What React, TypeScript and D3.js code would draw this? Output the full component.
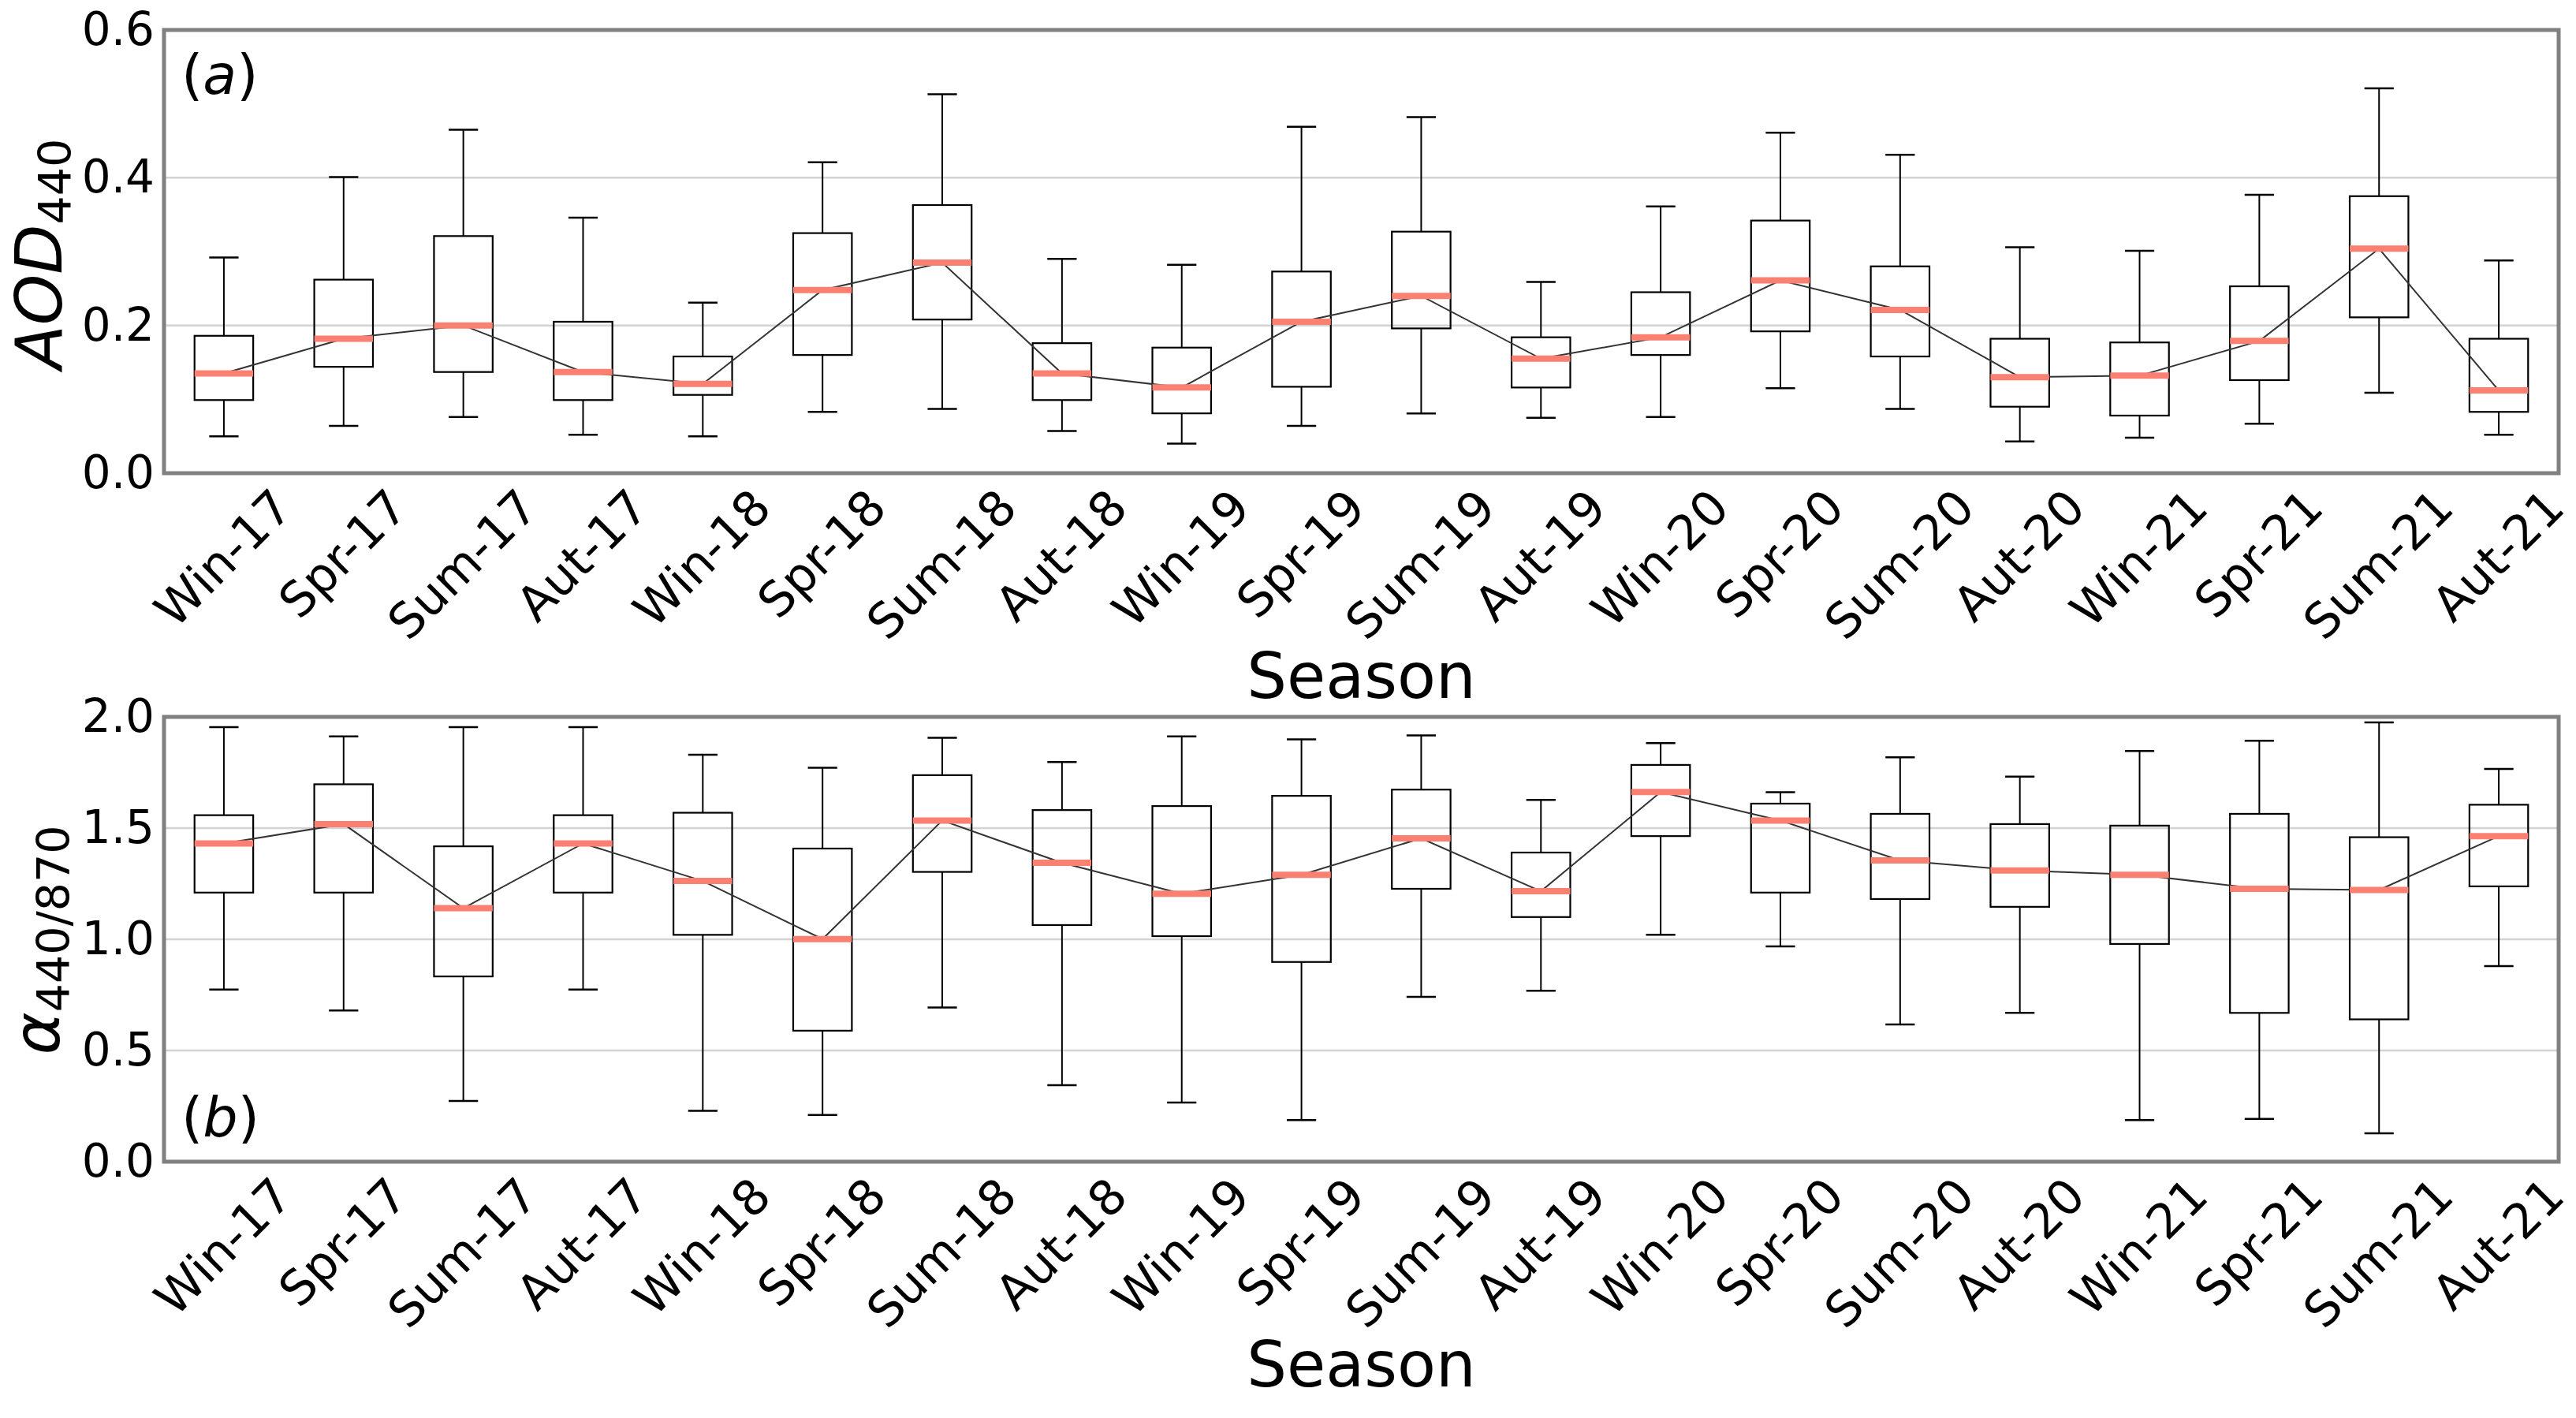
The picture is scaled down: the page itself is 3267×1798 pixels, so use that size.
import React, { useEffect, useRef } from "react";
import * as d3 from "d3";

const seasons = [
  "Win-17", "Spr-17", "Sum-17", "Aut-17",
  "Win-18", "Spr-18", "Sum-18", "Aut-18",
  "Win-19", "Spr-19", "Sum-19", "Aut-19",
  "Win-20", "Spr-20", "Sum-20", "Aut-20",
  "Win-21", "Spr-21", "Sum-21", "Aut-21",
];

// (a) AOD 440 box stats
const aodLow = [0.050, 0.064, 0.076, 0.052, 0.050, 0.083, 0.087, 0.057, 0.040, 0.064, 0.081, 0.075, 0.076, 0.115, 0.087, 0.043, 0.048, 0.067, 0.109, 0.052];
const aodQ1 = [0.099, 0.144, 0.137, 0.099, 0.106, 0.160, 0.208, 0.099, 0.081, 0.117, 0.196, 0.116, 0.160, 0.192, 0.158, 0.090, 0.078, 0.126, 0.211, 0.083];
const aodMed = [0.135, 0.182, 0.200, 0.137, 0.121, 0.248, 0.285, 0.135, 0.116, 0.205, 0.240, 0.155, 0.184, 0.261, 0.221, 0.130, 0.132, 0.179, 0.304, 0.112];
const aodQ3 = [0.186, 0.262, 0.321, 0.205, 0.158, 0.325, 0.363, 0.176, 0.170, 0.273, 0.327, 0.184, 0.245, 0.342, 0.280, 0.182, 0.177, 0.253, 0.375, 0.182];
const aodHigh = [0.292, 0.401, 0.465, 0.346, 0.231, 0.421, 0.513, 0.290, 0.282, 0.469, 0.482, 0.259, 0.361, 0.461, 0.431, 0.306, 0.301, 0.377, 0.521, 0.288];
const aodTicks = [0, 0.2, 0.4, 0.6];

// (b) Angstrom exponent 440/870 box stats
const angLow = [0.774, 0.680, 0.273, 0.774, 0.229, 0.210, 0.693, 0.344, 0.266, 0.187, 0.741, 0.769, 1.020, 0.968, 0.617, 0.669, 0.187, 0.192, 0.128, 0.879];
const angQ1 = [1.210, 1.210, 0.833, 1.210, 1.020, 0.589, 1.303, 1.064, 1.014, 0.898, 1.227, 1.100, 1.464, 1.210, 1.181, 1.146, 0.979, 0.669, 0.640, 1.238];
const angMed = [1.431, 1.518, 1.140, 1.431, 1.262, 1.001, 1.534, 1.344, 1.205, 1.290, 1.454, 1.216, 1.662, 1.534, 1.355, 1.309, 1.290, 1.227, 1.222, 1.464];
const angQ3 = [1.558, 1.697, 1.418, 1.558, 1.569, 1.408, 1.738, 1.581, 1.599, 1.645, 1.673, 1.390, 1.784, 1.610, 1.564, 1.518, 1.511, 1.564, 1.459, 1.605];
const angHigh = [1.954, 1.912, 1.954, 1.954, 1.830, 1.771, 1.906, 1.797, 1.912, 1.899, 1.917, 1.627, 1.882, 1.661, 1.818, 1.731, 1.847, 1.893, 1.975, 1.766];
const angTicks = [0, 0.5, 1.0, 1.5, 2.0];

const W = 3267;
const H = 1798;
const LEFT = 208;
const RIGHT = 3245;
const FONT = "DejaVu Sans";

function drawPanel(svg: any, p: any) {
  const x = d3.scaleBand<string>().domain(seasons).range([LEFT, RIGHT]);
  const y = d3.scaleLinear().domain([0, p.max]).range([p.bottom, p.top]);
  const bw = x.bandwidth();
  const cx = (i: number) => (x(seasons[i]) as number) + bw / 2;
  const boxW = bw * 0.49;
  const capW = boxW / 2;
  const idx = d3.range(seasons.length);

  const g = svg.append("g");

  // grid
  g.selectAll("line.grid")
    .data(p.ticks.slice(1, -1))
    .join("line")
    .attr("class", "grid")
    .attr("x1", LEFT).attr("x2", RIGHT)
    .attr("y1", (d: number) => y(d)).attr("y2", (d: number) => y(d))
    .attr("stroke", "#d3d3d3")
    .attr("stroke-width", 2.5);

  // whiskers
  g.selectAll("line.wlo").data(idx).join("line")
    .attr("x1", cx).attr("x2", cx)
    .attr("y1", (i: number) => y(p.q1[i])).attr("y2", (i: number) => y(p.low[i]))
    .attr("stroke", "#000").attr("stroke-width", 2);
  g.selectAll("line.whi").data(idx).join("line")
    .attr("x1", cx).attr("x2", cx)
    .attr("y1", (i: number) => y(p.q3[i])).attr("y2", (i: number) => y(p.high[i]))
    .attr("stroke", "#000").attr("stroke-width", 2);
  // caps
  [p.low, p.high].forEach((arr: number[]) => {
    g.append("g").selectAll("line").data(idx).join("line")
      .attr("x1", (i: number) => cx(i) - capW / 2).attr("x2", (i: number) => cx(i) + capW / 2)
      .attr("y1", (i: number) => y(arr[i])).attr("y2", (i: number) => y(arr[i]))
      .attr("stroke", "#000").attr("stroke-width", 2.5);
  });
  // boxes
  g.append("g").selectAll("rect").data(idx).join("rect")
    .attr("x", (i: number) => cx(i) - boxW / 2)
    .attr("width", boxW)
    .attr("y", (i: number) => y(p.q3[i]))
    .attr("height", (i: number) => y(p.q1[i]) - y(p.q3[i]))
    .attr("fill", "none")
    .attr("stroke", "#000")
    .attr("stroke-width", 2.2);

  // line through medians
  const line = d3.line<number>().x((_, i) => cx(i)).y((d) => y(d));
  g.append("path")
    .attr("d", line(p.med))
    .attr("fill", "none")
    .attr("stroke", "#333")
    .attr("stroke-width", 2);

  // median bars
  g.append("g").selectAll("line").data(idx).join("line")
    .attr("x1", (i: number) => cx(i) - boxW / 2).attr("x2", (i: number) => cx(i) + boxW / 2)
    .attr("y1", (i: number) => y(p.med[i])).attr("y2", (i: number) => y(p.med[i]))
    .attr("stroke", "#fa8072")
    .attr("stroke-width", 8);

  // y axis labels
  const yAxis = d3.axisLeft(y).tickValues(p.ticks).tickFormat(d3.format(".1f")).tickSize(0).tickPadding(12);
  const ya = svg.append("g").attr("transform", `translate(${LEFT},0)`).call(yAxis);
  ya.select(".domain").remove();
  ya.attr("font-size", 58).attr("font-family", FONT);
  ya.selectAll("text").attr("fill", "#000");

  // x axis labels, rotated
  const xAxis = d3.axisBottom(x).tickSize(0);
  const xa = svg.append("g").attr("transform", `translate(0,${p.bottom})`).call(xAxis);
  xa.select(".domain").remove();
  xa.attr("font-size", 61).attr("font-family", FONT);
  xa.selectAll("text")
    .attr("fill", "#000")
    .attr("y", null)
    .attr("dy", null)
    .attr("text-anchor", "end")
    .attr("transform", function (this: SVGTextElement) {
      const L = this.getComputedTextLength();
      return `translate(${0.3535 * L + 14},47) rotate(-45)`;
    });

  // x title
  svg.append("text")
    .attr("x", (LEFT + RIGHT) / 2)
    .attr("y", p.bottom + 285)
    .attr("text-anchor", "middle")
    .attr("font-family", FONT)
    .attr("font-size", 80)
    .text("Season");

  // y title
  const yt = svg.append("text")
    .attr("transform", `translate(${p.labelX},${p.labelY}) rotate(-90)`)
    .attr("text-anchor", "middle")
    .attr("font-family", FONT);
  yt.append("tspan").attr("font-size", 82).attr("font-style", "italic").text(p.labelMain);
  yt.append("tspan").attr("font-size", 57).attr("dy", p.subShift).text(p.labelSub);

  // panel tag
  const tag = svg.append("text")
    .attr("x", 230)
    .attr("y", p.tagY)
    .attr("font-family", FONT)
    .attr("font-size", 70);
  tag.append("tspan").text("(");
  tag.append("tspan").attr("font-style", "italic").text(p.tag);
  tag.append("tspan").text(")");

  // frame
  svg.append("rect")
    .attr("x", LEFT).attr("y", p.top)
    .attr("width", RIGHT - LEFT).attr("height", p.bottom - p.top)
    .attr("fill", "none")
    .attr("stroke", "#808080")
    .attr("stroke-width", 5);
}

export default function App() {
  const ref = useRef<SVGSVGElement>(null);

  useEffect(() => {
    const svg = d3.select(ref.current);
    svg.selectAll("*").remove();
    svg.append("rect").attr("width", W).attr("height", H).attr("fill", "#fff");

    drawPanel(svg, {
      top: 38, bottom: 600, max: 0.6, ticks: aodTicks,
      low: aodLow, q1: aodQ1, med: aodMed, q3: aodQ3, high: aodHigh,
      labelMain: "AOD", labelSub: "440", labelX: 78, labelY: 322, subShift: 12,
      tag: "a", tagY: 119,
    });
    drawPanel(svg, {
      top: 909, bottom: 1473, max: 2.0, ticks: angTicks,
      low: angLow, q1: angQ1, med: angMed, q3: angQ3, high: angHigh,
      labelMain: "α", labelSub: "440/870", labelX: 75, labelY: 1192, subShift: 13,
      tag: "b", tagY: 1441,
    });
  }, []);

  return (
    <>
      <style>{"body{margin:0}"}</style>
      <svg ref={ref} width={W} height={H} style={{ display: "block" }} />
    </>
  );
}
